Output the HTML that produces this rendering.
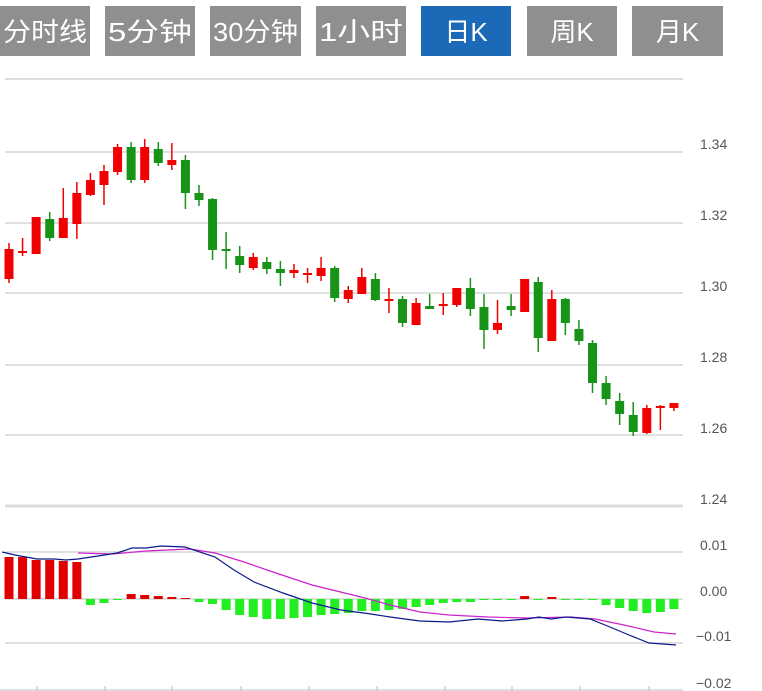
<!DOCTYPE html>
<html><head><meta charset="utf-8"><style>
html,body{margin:0;padding:0;background:#fff;width:762px;height:691px;overflow:hidden}
svg{position:absolute;left:0;top:0}
</style></head><body>
<svg id="s" width="762" height="691" xmlns="http://www.w3.org/2000/svg" font-family="Liberation Sans, Noto Sans CJK SC, sans-serif">
<g id="tabs"></g>
<line x1="5" y1="79" x2="683" y2="79" stroke="#ddd" stroke-width="2"/>
<g stroke="#d6d6d6" stroke-width="1.5">
<line x1="5" y1="152" x2="683" y2="152"/><line x1="5" y1="223" x2="683" y2="223"/>
<line x1="5" y1="293" x2="683" y2="293"/><line x1="5" y1="365" x2="683" y2="365"/>
<line x1="5" y1="435" x2="683" y2="435"/>
<line x1="5" y1="552" x2="683" y2="552"/><line x1="5" y1="599" x2="683" y2="599"/>
<line x1="5" y1="643" x2="683" y2="643"/>
</g>
<line x1="5" y1="506" x2="683" y2="506" stroke="#ddd" stroke-width="3"/>
<g font-size="14" fill="#555">
<text x="700" y="149">1.34</text><text x="700" y="220">1.32</text><text x="700" y="291">1.30</text>
<text x="700" y="362">1.28</text><text x="700" y="433">1.26</text><text x="700" y="504">1.24</text>
<text x="700" y="550">0.01</text><text x="700" y="596">0.00</text><text x="696" y="641">−0.01</text><text x="696" y="688">−0.02</text>
</g>
<g id="c"></g><g id="h"></g>
<polyline fill="none" stroke="#cc22cc" stroke-width="1.2" points="78,553 112,554 146,551 190,549 215,553 244,562 273,572 312,585 361,597 390,605 420,612 449,615 488,617 527,618 571,617 595,619 624,625 654,632 676,634"/>
<polyline fill="none" stroke="#0a1a8c" stroke-width="1.2" points="2,552 15,555 37,559 54,559 66,560 78,559 98,556 117,553 132,548 146,548 161,546 185,547 215,557 234,570 254,582 283,593 312,603 341,610 371,614 390,617 420,621 449,622 478,619 502,621 527,619 539,617 551,619 566,617 590,619 610,627 629,635 649,643 663,644 676,645"/>
<g stroke="#bbb"><line x1="0" y1="690" x2="683" y2="690"/>
<line x1="37" y1="686" x2="37" y2="691"/><line x1="105" y1="686" x2="105" y2="691"/><line x1="172" y1="686" x2="172" y2="691"/><line x1="241" y1="686" x2="241" y2="691"/><line x1="309" y1="686" x2="309" y2="691"/><line x1="377" y1="686" x2="377" y2="691"/><line x1="445" y1="686" x2="445" y2="691"/><line x1="512" y1="686" x2="512" y2="691"/><line x1="580" y1="686" x2="580" y2="691"/><line x1="649" y1="686" x2="649" y2="691"/></g>
</svg>
<script>
var NS="http://www.w3.org/2000/svg";
function el(p,t,a,txt){var e=document.createElementNS(NS,t);for(var k in a)e.setAttribute(k,a[k]);if(txt)e.textContent=txt;p.appendChild(e);return e;}
var tabs=[["分时线",0,90],["5分钟",105,195],["30分钟",210,301],["1小时",316,406],["日K",421,511],["周K",527,617],["月K",632,723]];
var T=document.getElementById("tabs");
tabs.forEach(function(t,i){el(T,"rect",{x:t[1],y:6,width:t[2]-t[1],height:50,fill:i==4?"#1c69b8":"#8f8f8f"});
el(T,"text",{x:(t[1]+t[2])/2,y:41,fill:"#fff","font-size":"26","text-anchor":"middle",textLength:i<4?(t[2]-t[1]-6):null,lengthAdjust:"spacingAndGlyphs"},t[0]);});
T.querySelectorAll("text").forEach(function(e){if(e.getAttribute("textLength")=="null")e.removeAttribute("textLength");});
var C=[["r",249,279,243,283],["r",251,253,238,256],["r",217,254,217,254],["g",219,238,212,241],["r",218,238,188,238],["r",193,224,182,239],["r",180,195,173,196],["r",171,185,165,205],["r",147,172,144,175],["g",147,180,142,183],["r",147,180,139,183],["g",149,163,142,166],["r",160,165,143,170],["g",160,193,155,209],["g",193,200,185,206],["g",199,250,198,260],["g",249,251,232,269],["g",256,265,246,273],["r",257,268,253,270],["g",262,269,257,274],["g",269,273,261,286],["r",270,273,264,278],["r",273,275,268,283],["r",268,276,257,281],["g",268,298,266,302],["r",290,299,286,303],["r",277,294,268,294],["g",279,300,273,301],["r",299,300,288,313],["g",299,323,296,327],["r",303,325,298,325],["g",306,309,294,309],["r",304,306,293,315],["r",288,305,288,307],["g",288,309,278,316],["g",307,330,294,349],["r",323,330,300,334],["g",306,310,294,316],["r",279,312,279,312],["g",282,338,277,352],["r",299,341,290,341],["g",299,323,298,335],["g",329,341,320,345],["g",343,383,340,393],["g",383,399,376,405],["g",401,414,393,425],["g",415,432,402,436],["r",408,433,405,434],["r",406,408,405,430],["r",403,408,403,411]];
var G=document.getElementById("c");
C.forEach(function(c,i){var x=9+i*13.57,col=c[0]=="r"?"#f00000":"#179417";
el(G,"line",{x1:x,x2:x,y1:c[3],y2:c[4],stroke:col,"stroke-width":1.5});
el(G,"rect",{x:x-4.5,y:c[1],width:9,height:Math.max(c[2]-c[1],2),fill:col});});
var H=[557,557,560,560,561,562,605,603,600,594,595,596,597,598,602,604,610,615,617,619,619,618,617,615,614,613,611,611,610,609,607,605,603,602,602,600,600,599,596,600,597,599,600,600,605,608,611,613,612,609];
var HG=document.getElementById("h");
H.forEach(function(v,i){var x=9+i*13.57;var up=v<599;
el(HG,"rect",{x:x-4.5,y:Math.min(v,599),width:9,height:Math.max(Math.abs(v-599),1),fill:up?"#e00000":"#22ee22"});});
</script>
</body></html>
